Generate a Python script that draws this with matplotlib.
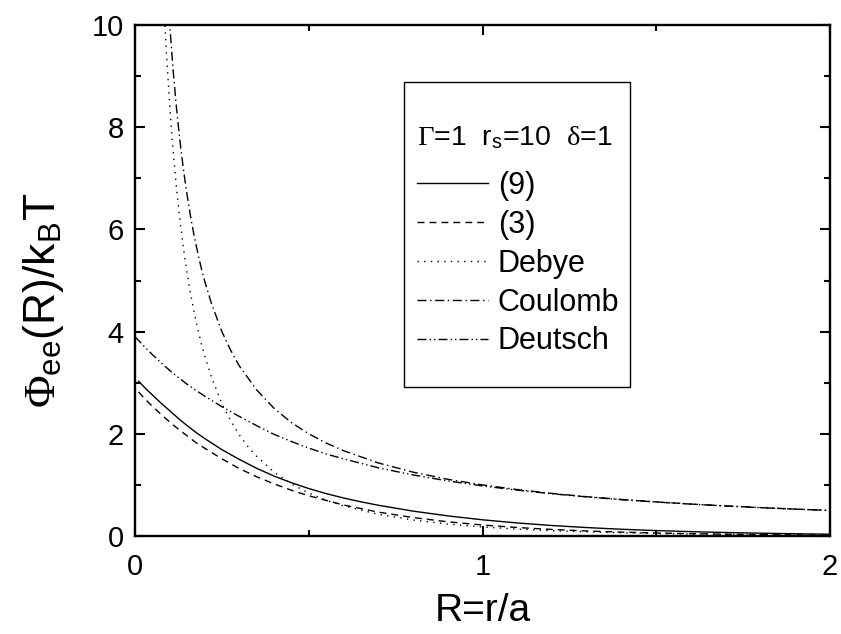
import matplotlib
matplotlib.use("Agg")
import matplotlib.pyplot as plt
from matplotlib.patches import Rectangle

plt.rcParams['font.family'] = ['Liberation Sans', 'DejaVu Sans']
plt.rcParams['mathtext.fontset'] = 'custom'
plt.rcParams['mathtext.rm'] = 'Liberation Serif'
plt.rcParams['mathtext.sf'] = 'Liberation Sans'
plt.rcParams['mathtext.it'] = 'Liberation Serif:italic'

# ---- data ----
R_eq9 = [0.01, 0.03, 0.05, 0.075, 0.1, 0.125, 0.15, 0.175, 0.2, 0.25, 0.3, 0.35, 0.4, 0.45,
         0.5, 0.55, 0.6, 0.65, 0.7, 0.8, 0.9, 1.0, 1.1, 1.2, 1.3, 1.4, 1.5, 1.6, 1.7, 1.8,
         1.9, 2.0]
phi_eq9 = [3.03, 2.89, 2.76, 2.60, 2.45, 2.30, 2.16, 2.03, 1.91, 1.69, 1.50, 1.325, 1.173,
           1.043, 0.929, 0.830, 0.744, 0.669, 0.602, 0.487, 0.394, 0.317, 0.255, 0.205,
           0.165, 0.132, 0.106, 0.085, 0.068, 0.055, 0.044, 0.035]

R_eq3 = [0.01, 0.03, 0.05, 0.075, 0.1, 0.125, 0.15, 0.175, 0.2, 0.25, 0.3, 0.35, 0.4, 0.45,
         0.5, 0.6, 0.7, 0.8, 0.9, 1.0, 1.1, 1.2, 1.3, 1.4, 1.5, 1.6, 1.7, 1.8, 1.9, 2.0]
phi_eq3 = [2.82, 2.67, 2.54, 2.38, 2.23, 2.09, 1.96, 1.83, 1.72, 1.51, 1.32, 1.16, 1.02, 0.896,
           0.787, 0.607, 0.468, 0.361, 0.278, 0.215, 0.166, 0.128, 0.0984, 0.076, 0.0586,
           0.0452, 0.0348, 0.0268, 0.0207, 0.016]

R_debye = [0.08, 0.085, 0.09, 0.1, 0.11, 0.12, 0.13, 0.14, 0.15, 0.16, 0.17, 0.18, 0.19, 0.2,
           0.22, 0.25, 0.275, 0.3, 0.325, 0.35, 0.4, 0.45, 0.5, 0.55, 0.6, 0.7, 0.8, 0.9, 1.0,
           1.1, 1.2, 1.3, 1.4, 1.5, 1.6, 1.7, 1.8, 1.9, 2.0]
phi_debye = [10.88, 10.15, 9.51, 8.41, 7.51, 6.77, 6.14, 5.60, 5.14, 4.74, 4.38, 4.07, 3.79,
             3.54, 3.11, 2.59, 2.26, 1.98, 1.75, 1.56, 1.25, 1.02, 0.84, 0.70, 0.59, 0.425,
             0.313, 0.234, 0.177, 0.135, 0.104, 0.081, 0.063, 0.0496, 0.039, 0.031, 0.025,
             0.0196, 0.016]

R_coul = [0.095, 0.1, 0.11, 0.12, 0.13, 0.14, 0.15, 0.16, 0.17, 0.18, 0.19, 0.2, 0.22, 0.25,
          0.275, 0.3, 0.35, 0.4, 0.45, 0.5, 0.55, 0.6, 0.7, 0.8, 0.9, 1.0, 1.1, 1.2, 1.3,
          1.4, 1.5, 1.6, 1.7, 1.8, 1.9, 2.0]
phi_coul = [10.53, 10.0, 9.09, 8.33, 7.69, 7.14, 6.67, 6.25, 5.88, 5.56, 5.26, 5.00, 4.55,
            4.00, 3.64, 3.33, 2.86, 2.50, 2.22, 2.00, 1.82, 1.67, 1.43, 1.25, 1.11, 1.00,
            0.909, 0.833, 0.769, 0.714, 0.667, 0.625, 0.588, 0.556, 0.526, 0.50]

R_deut = [0.0, 0.025, 0.05, 0.075, 0.1, 0.125, 0.15, 0.175, 0.2, 0.25, 0.3, 0.35, 0.4, 0.45,
          0.5, 0.55, 0.6, 0.7, 0.8, 0.9, 1.0, 1.1, 1.2, 1.3, 1.4, 1.5, 1.6, 1.7, 1.8, 1.9, 2.0]
phi_deut = [3.90, 3.72, 3.55, 3.39, 3.24, 3.10, 2.97, 2.85, 2.74, 2.53, 2.34, 2.16, 1.99, 1.85,
            1.72, 1.605, 1.51, 1.335, 1.195, 1.078, 0.98, 0.897, 0.826, 0.765, 0.711, 0.665,
            0.624, 0.587, 0.555, 0.526, 0.50]

labels = ["(9)", "(3)", "Debye", "Coulomb", "Deutsch"]
legend_title = "$\\mathrm{\\Gamma}$=1  r$_\\mathsf{s}$=10  $\\mathrm{\\delta}$=1"
xticks = [0, 1, 2]
yticks = [0, 2, 4, 6, 8, 10]

# ---- figure ----
W, H = 841, 634
fig = plt.figure(figsize=(W / 100, H / 100), dpi=100)
AX0, AX1, AY0, AY1 = 135, 830, 536, 25
ax = fig.add_axes([AX0 / W, 1 - AY0 / H, (AX1 - AX0) / W, (AY0 - AY1) / H])


def fx(px):
    return (px - AX0) / (AX1 - AX0)


def fy(py):
    return (AY0 - py) / (AY0 - AY1)


lw = 1.0
styles = [
    '-',
    (0, (5.0, 3.6)),
    (0, (1.0, 3.8)),
    (0, (6.5, 2.6, 1.0, 2.6)),
    (0, (6.5, 2.2, 1.0, 2.2, 1.0, 2.2)),
]
series = [(R_eq9, phi_eq9), (R_eq3, phi_eq3), (R_debye, phi_debye),
          (R_coul, phi_coul), (R_deut, phi_deut)]
handles = []
for (x, y), st, lab in zip(series, styles, labels):
    h, = ax.plot(x, y, color='black', lw=lw, label=lab, linestyle=st)
    handles.append(h)

ax.set_xlim(0, 2)
ax.set_ylim(0, 10)
ax.set_xticks(xticks)
ax.set_yticks(yticks)
ax.set_xticks([0.5, 1.5], minor=True)
ax.set_yticks([1, 3, 5, 7, 9], minor=True)
ax.tick_params(which='both', direction='in', top=True, right=True, width=1.5,
               labelsize=21)
ax.tick_params(axis='x', which='both', pad=12)
ax.tick_params(axis='y', which='both', pad=8)
ax.tick_params(which='major', length=7.5)
ax.tick_params(which='minor', length=4.3)
for s in ax.spines.values():
    s.set_linewidth(1.7)

ax.set_xlabel("R=r/a", fontsize=28, labelpad=9)
ax.set_ylabel("$\\mathrm{\\Phi}_\\mathsf{ee}$(R)/k$_\\mathsf{B}$T", fontsize=32)
ax.yaxis.set_label_coords(fx(66), fy(300))

# legend frame
ax.add_patch(Rectangle((fx(404), fy(387)), fx(630) - fx(404), fy(82) - fy(387),
                       transform=ax.transAxes, fill=False, edgecolor='black',
                       lw=1.0, zorder=5))
ax.text(fx(417), fy(145), legend_title, transform=ax.transAxes, fontsize=20.5,
        ha='left', va='baseline')

leg = ax.legend(handles=handles, labels=labels,
                loc='upper left', bbox_to_anchor=(fx(417), fy(171)),
                frameon=False, fontsize=22,
                handlelength=2.32, handletextpad=0.33, labelspacing=0.29,
                borderpad=0, borderaxespad=0)

fig.savefig("out.png", dpi=100)
